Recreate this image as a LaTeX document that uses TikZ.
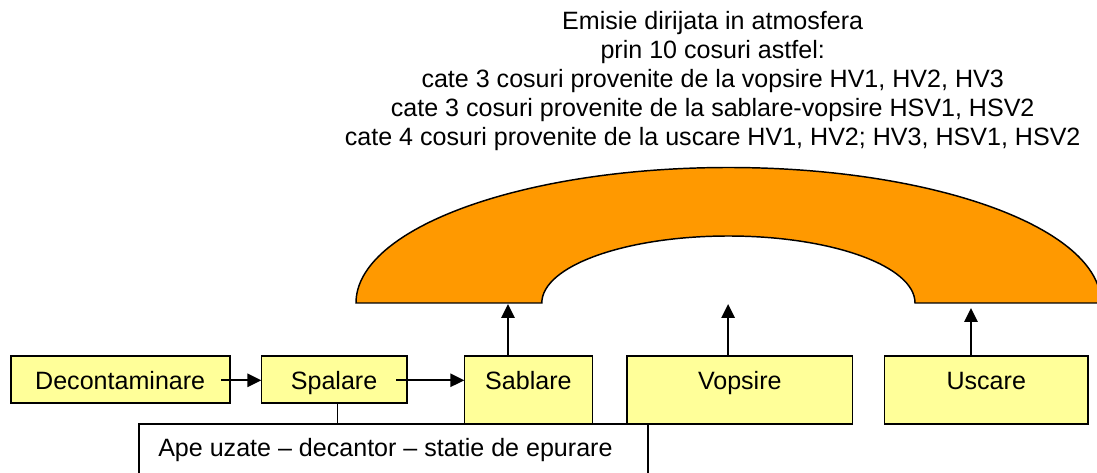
\documentclass[tikz,border=0pt]{standalone}
\usepackage{fontspec}
\setmainfont{Liberation Sans}
\usetikzlibrary{arrows.meta}
\definecolor{boxyellow}{HTML}{FFFF99}
\definecolor{archorange}{HTML}{FF9900}
\tikzset{
  every node/.style={font=\fontsize{18.8}{21.6}\selectfont, text=black},
  stagebox/.style={draw=black, line width=1.2pt, fill=boxyellow, anchor=north west, outer sep=0pt, inner xsep=0pt, inner ysep=0pt, text height=24.75pt, align=center},
  shortbox/.style={stagebox, text depth=10.3pt},
  tallbox/.style={stagebox, text depth=26.25pt},
  waterbox/.style={draw=black, line width=1.2pt, fill=white, anchor=north west, outer sep=0pt, inner sep=0pt, minimum width=382pt, minimum height=50pt},
  flow/.style={draw=black, line width=1.3pt, -{Triangle[length=10.5pt,width=10pt]}},
  plainline/.style={draw=black, line width=0.9pt},
  archshape/.style={draw=black, line width=1.1pt, fill=archorange, line join=miter}
}
\begin{document}
\begin{tikzpicture}[x=0.75pt,y=0.75pt]
\clip (0,0) rectangle (1097,472);
\fill[white] (0,0) rectangle (1097,472);
% arch
\path[archshape] (356,169) arc[start angle=180,end angle=0,x radius=279.375pt,y radius=101.625pt]
  -- (915,169) arc[start angle=0,end angle=180,x radius=139.95pt,y radius=50.25pt] -- cycle;
% boxes
\node[shortbox, minimum width=164.25pt] (decon) at (10.7,116) {Decontaminare};
\node[shortbox, minimum width=109pt] (spal) at (261.4,116) {Spalare};
\node[tallbox, minimum width=96.2pt] (sabl) at (464.3,116) {Sablare};
\node[tallbox, minimum width=169.2pt] (vops) at (627,116) {Vopsire};
\node[tallbox, minimum width=152.5pt] (usca) at (884.6,116) {Uscare};
\node[waterbox] (ape) at (138.7,48) {};
\node[anchor=base west, inner sep=0pt] (apetext) at (158,15.3) {Ape uzate – decantor – statie de epurare};
% header
\node[align=center, inner sep=0pt] (head) at (712.7,391) {Emisie dirijata in atmosfera\\prin 10 cosuri astfel:\\cate 3 cosuri provenite de la vopsire HV1, HV2, HV3\\cate 3 cosuri provenite de la sablare-vopsire HSV1, HSV2\\cate 4 cosuri provenite de la uscare HV1, HV2; HV3, HSV1, HSV2};
% connector end points
\coordinate (startA) at (221.4,91.7);
\coordinate (startB) at (396.4,91.7);
\coordinate (upS) at (508,168);
\coordinate (upV) at (728.1,168);
\coordinate (upU) at (971,164);
\coordinate (drop) at (337.5,102.7);
% connectors
\path[flow] (startA) -- (startA -| spal.west);
\path[flow] (startB) -- (startB -| sabl.west);
\path[flow] (upS |- sabl.north) -- (upS);
\path[flow] (upV |- vops.north) -- (upV);
\path[flow] (upU |- usca.north) -- (upU);
\path[plainline] (drop |- spal.south) -- (drop |- ape.north);
\end{tikzpicture}
\end{document}
